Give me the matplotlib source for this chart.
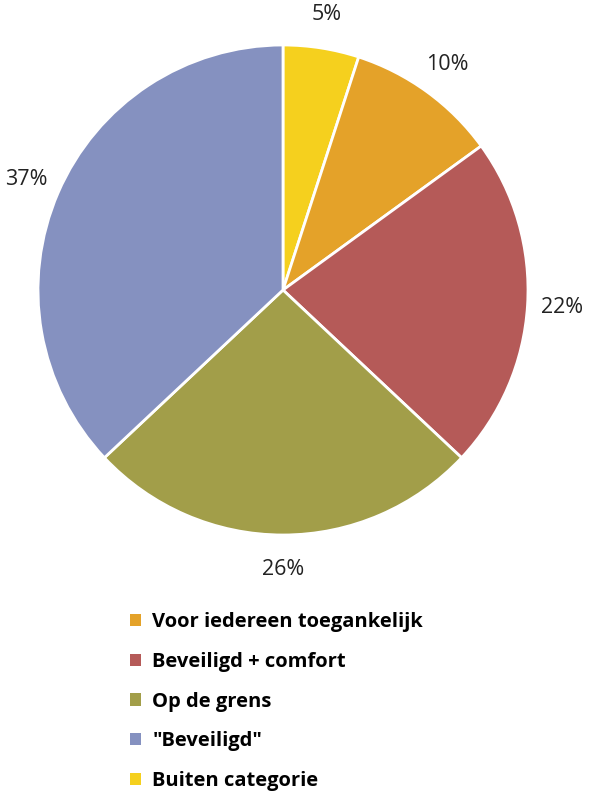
import matplotlib.pyplot as plt
from matplotlib.patches import Patch

# Slices clockwise from the top
slice_labels = ["Buiten categorie", "Voor iedereen toegankelijk", "Beveiligd + comfort",
                "Op de grens", '"Beveiligd"']
slice_values = [5, 10, 22, 26, 37]
slice_colors = ["#F5D01E", "#E4A229", "#B55A58", "#A29E49", "#8591C0"]

# Legend order
legend_order = [1, 2, 3, 4, 0]

plt.rcParams["font.family"] = ["Open Sans", "DejaVu Sans"]

fig = plt.figure(figsize=(5.91, 7.94), dpi=100)
W, H = 591, 794
cx, cy, r = 283, 290, 245
ax = fig.add_axes([(cx - r) / W, 1 - (cy + r) / H, 2 * r / W, 2 * r / H])

ax.pie(
    slice_values,
    colors=slice_colors,
    startangle=90,
    counterclock=False,
    radius=1,
    autopct=lambda p: f"{p:.0f}%",
    pctdistance=1.14,
    wedgeprops=dict(edgecolor="white", linewidth=2),
    textprops=dict(fontsize=15.5, color="#222222"),
)
ax.set_xlim(-1, 1)
ax.set_ylim(-1, 1)
ax.set_aspect("equal")

handles = [Patch(facecolor=slice_colors[i], edgecolor="none") for i in legend_order]
labels = [slice_labels[i] for i in legend_order]
fig.legend(
    handles, labels,
    loc="upper left", bbox_to_anchor=(112 / W, 1 - 594 / H),
    frameon=False, handlelength=0.55, handleheight=0.55,
    handletextpad=0.55, labelspacing=0.98,
    prop=dict(family=["Open Sans", "DejaVu Sans"], weight="bold", size=14.5),
)

fig.savefig("out.png", dpi=100, facecolor="white")
